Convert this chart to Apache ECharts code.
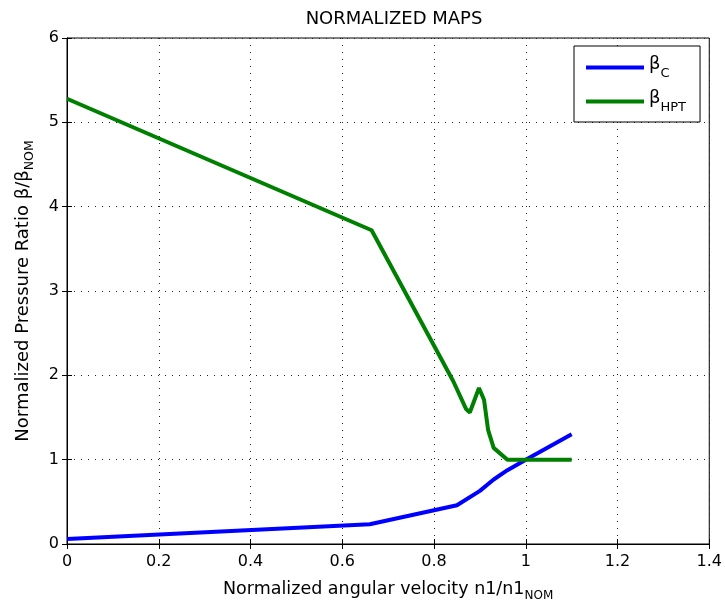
<!DOCTYPE html>
<html><head><meta charset="utf-8">
<script src="https://cdn.jsdelivr.net/npm/echarts@6/dist/echarts.min.js"></script>
<style>html,body{margin:0;padding:0;background:#fff}#c{width:725px;height:608px}</style>
</head><body><div id="c"></div>
<script>
const titleText = 'NORMALIZED MAPS';
const xTicks = [0, 0.2, 0.4, 0.6, 0.8, 1, 1.2, 1.4];
const yTicks = [0, 1, 2, 3, 4, 5, 6];
const betaC_x = [0, 0.66, 0.85, 0.90, 0.93, 0.96, 1.0, 1.1];
const betaC_y = [0.06, 0.235, 0.46, 0.63, 0.765, 0.875, 1.0, 1.3];
const betaHPT_x = [0, 0.664, 0.842, 0.87, 0.878, 0.898, 0.909, 0.918, 0.930, 0.96, 1.1];
const betaHPT_y = [5.28, 3.72, 1.93, 1.60, 1.56, 1.85, 1.71, 1.35, 1.14, 1.0, 1.0];

const zip = (a, b) => a.map((v, i) => [v, b[i]]);
const font = 'DejaVu Sans, Liberation Sans, Arial, sans-serif';
const chart = echarts.init(document.getElementById('c'), null, {renderer: 'canvas'});
const dotted = {show: true, lineStyle: {color: '#222', width: 1, type: [1, 6]}};
chart.setOption({
  animation: false,
  backgroundColor: '#fff',
  title: {text: titleText, left: 389, top: 5, textAlign: 'center',
    textStyle: {fontFamily: font, fontSize: 18, fontWeight: 'normal', color: '#000'}},
  grid: {left: 67, right: 14, top: 38, bottom: 64, show: true, borderColor: '#000', borderWidth: 1, backgroundColor: '#fff'},
  legend: {
    orient: 'vertical', left: 574, top: 46, width: 126,
    padding: [9, 14, 8, 12], itemGap: 9,
    borderColor: '#000', borderWidth: 1, backgroundColor: '#fff',
    icon: 'rect', itemWidth: 58, itemHeight: 4, itemStyle: {borderWidth: 0},
    data: ['C', 'HPT'],
    formatter: n => '{b|β}{s|' + n + '}',
    textStyle: {fontFamily: font, color: '#000',
      rich: {b: {fontSize: 18, fontFamily: font, lineHeight: 25, verticalAlign: 'top'}, s: {fontSize: 13, fontFamily: font, padding: [12, 0, 0, 0], lineHeight: 25}}}
  },
  xAxis: [{
    type: 'value', min: 0, max: 1.4, interval: 0.2,
    name: '{a|Normalized angular velocity n1/n1}{s|NOM}', nameLocation: 'middle', nameGap: 33,
    nameTextStyle: {rich: {a: {fontFamily: font, fontSize: 17.5, color: '#000'}, s: {fontFamily: font, fontSize: 12, color: '#000', padding: [13, 0, 0, 0]}}},
    axisLine: {show: true, lineStyle: {color: '#000', width: 1}},
    axisTick: {show: true, inside: true, length: 5, lineStyle: {color: '#000'}},
    axisLabel: {fontFamily: font, fontSize: 16, color: '#000', margin: 10,
      formatter: v => { const s = String(+v.toFixed(1)); return xTicks.some(t => Math.abs(t - v) < 1e-9) ? s : ''; }},
    splitLine: dotted
  }, {
    type: 'value', min: 0, max: 1.4, interval: 0.2, position: 'top',
    axisLine: {show: true, lineStyle: {color: '#000'}},
    axisTick: {show: true, inside: true, length: 5, lineStyle: {color: '#000'}},
    axisLabel: {show: false}, splitLine: {show: false}
  }],
  yAxis: [{
    type: 'value', min: 0, max: 6, interval: 1,
    name: '{a|Normalized Pressure Ratio β/β}{s|NOM}', nameLocation: 'middle', nameGap: 31, nameRotate: 90,
    nameTextStyle: {rich: {a: {fontFamily: font, fontSize: 18, color: '#000'}, s: {fontFamily: font, fontSize: 12.5, color: '#000', padding: [13, 0, 0, 0]}}},
    axisLine: {show: true, lineStyle: {color: '#000', width: 1}},
    axisTick: {show: true, inside: true, length: 5, lineStyle: {color: '#000'}},
    axisLabel: {fontFamily: font, fontSize: 16, color: '#000', margin: 8,
      formatter: v => yTicks.includes(v) ? String(v) : ''},
    splitLine: dotted
  }, {
    type: 'value', min: 0, max: 6, interval: 1, position: 'right',
    axisLine: {show: true, lineStyle: {color: '#000'}},
    axisTick: {show: true, inside: true, length: 5, lineStyle: {color: '#000'}},
    axisLabel: {show: false}, splitLine: {show: false}
  }],
  series: [
    {name: 'C', type: 'line', data: zip(betaC_x, betaC_y), showSymbol: false, symbol: 'none',
      lineStyle: {color: '#0000ff', width: 4}, itemStyle: {color: '#0000ff'}},
    {name: 'HPT', type: 'line', data: zip(betaHPT_x, betaHPT_y), showSymbol: false, symbol: 'none',
      lineStyle: {color: '#008000', width: 4}, itemStyle: {color: '#008000'}}
  ]
});
</script></body></html>
